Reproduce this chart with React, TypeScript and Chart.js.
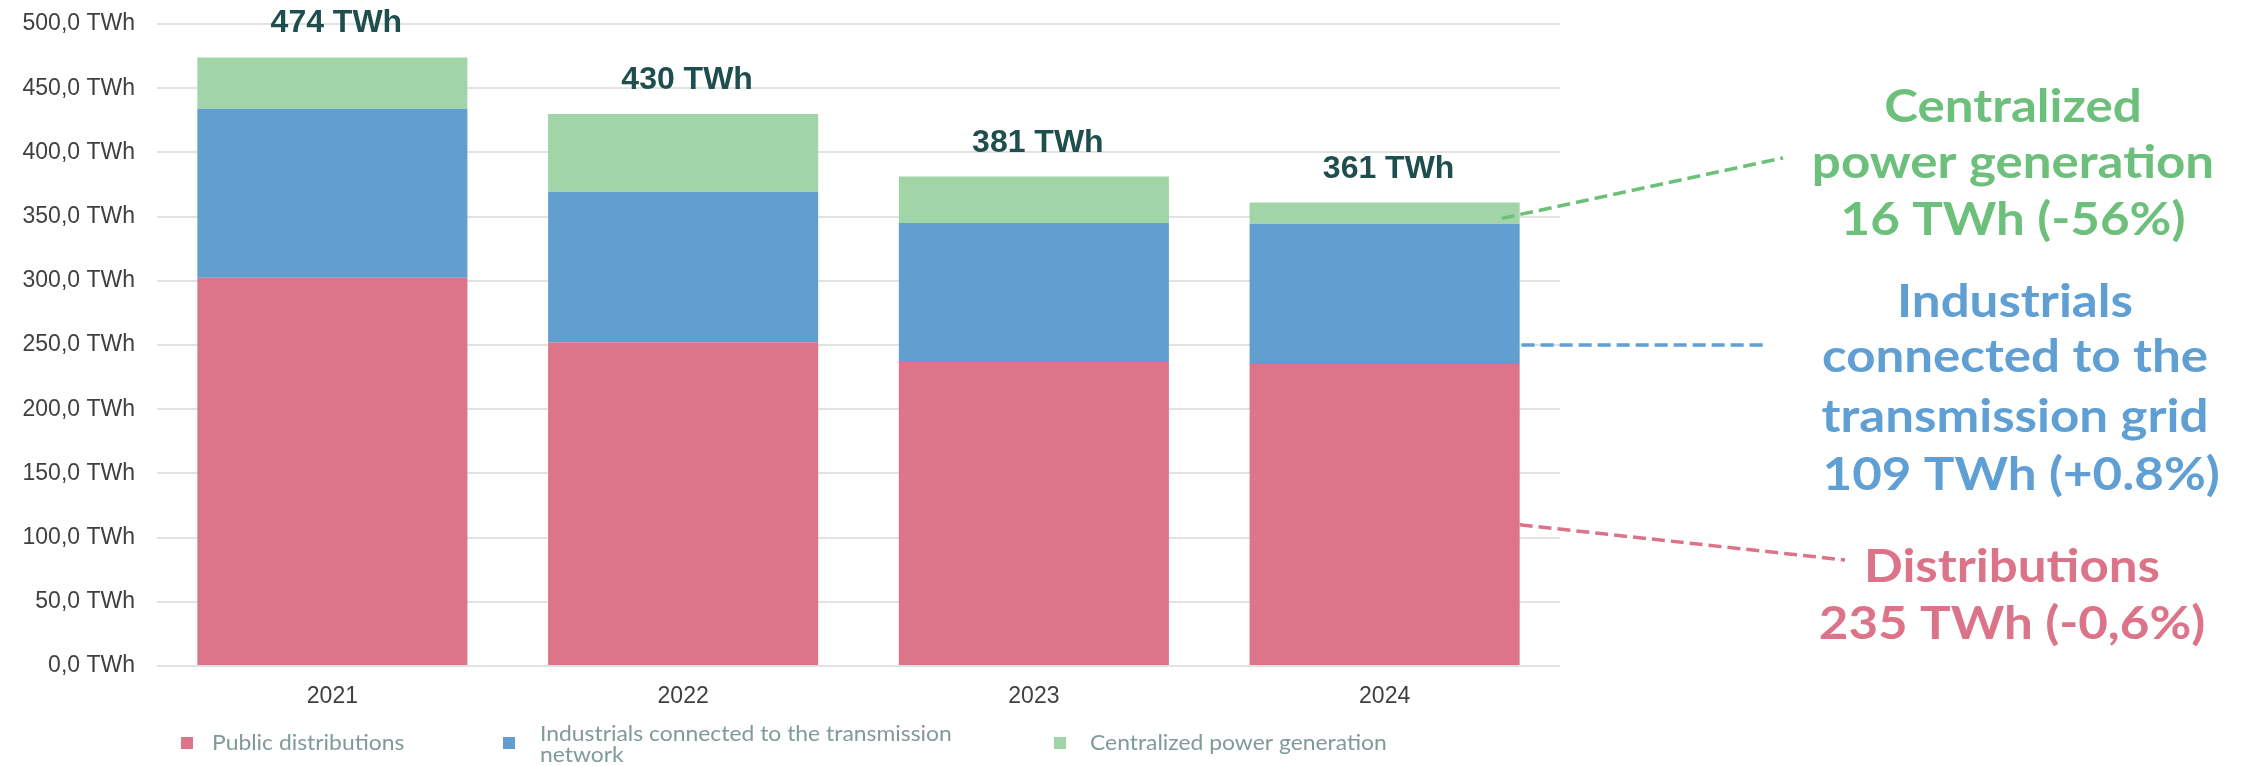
import React, { useEffect, useRef } from "react";
import { Chart, registerables } from "chart.js";

Chart.register(...registerables);

// ---------- data ----------
const categories = ["2021", "2022", "2023", "2024"];
const publicDistributions = [302.3, 252.1, 236.8, 235.2];
const industrials = [131.7, 117.2, 108.3, 109.3];
const centralized = [40.0, 60.7, 36.1, 16.4];
const seriesNames = [
  "Public distributions",
  "Industrials connected to the transmission network",
  "Centralized power generation",
];
const legendLines = [
  ["Public distributions"],
  ["Industrials connected to the transmission", "network"],
  ["Centralized power generation"],
];
const annotationLines = [
  ["Centralized", "power generation", "16 TWh (-56%)"],
  ["Industrials", "connected to the", "transmission grid", " 109 TWh (+0.8%)"],
  ["Distributions", "235 TWh (-0,6%)"],
];
// value on the last bar where each call-out line starts
const annotationAnchorValues = [348.6, 250, 110];
const yMax = 500;
const yStep = 50;

// ---------- styles ----------
const W = 2249;
const H = 766;
const barColors = ["#DC748A", "#629FD1", "#A1D5A8"];
const noteColors = ["#6DC07B", "#5F9FD3", "#DB7489"];
const axisFont = '"Liberation Sans", Arial, sans-serif';
const noteFont = 'Lato, "Noto Sans", sans-serif';

function stretchedText(ctx: any, text: string, x: number, y: number, sx: number, align: string) {
  ctx.save();
  ctx.translate(x, y);
  ctx.scale(sx, 1);
  ctx.textAlign = align;
  ctx.fillText(text, 0, 0);
  ctx.restore();
}

const totalsPlugin = {
  id: "totals",
  afterDatasetsDraw(chart: any) {
    const ctx = chart.ctx;
    const lastMeta = chart.getDatasetMeta(chart.data.datasets.length - 1);
    ctx.save();
    ctx.font = `bold 32px ${axisFont}`;
    ctx.fillStyle = "#1F4E4F";
    ctx.textAlign = "center";
    ctx.textBaseline = "alphabetic";
    categories.forEach((_, i) => {
      const total = publicDistributions[i] + industrials[i] + centralized[i];
      const el = lastMeta.data[i];
      ctx.fillText(`${Math.round(total)} TWh`, el.x + 4, el.y - 25);
    });
    ctx.restore();
  },
};

const legendPlugin = {
  id: "customLegend",
  afterDraw(chart: any) {
    const ctx = chart.ctx;
    const squareX = [181, 503, 1054];
    const textX = [212, 540, 1090];
    ctx.save();
    ctx.font = `22px ${noteFont}`;
    ctx.textBaseline = "alphabetic";
    seriesNames.forEach((_, i) => {
      ctx.fillStyle = barColors[i];
      ctx.fillRect(squareX[i], 737, 12, 12);
      ctx.fillStyle = "#809A98";
      const lines = legendLines[i];
      if (lines.length === 1) {
        stretchedText(ctx, lines[0], textX[i], 750, 1.04, "left");
      } else {
        stretchedText(ctx, lines[0], textX[i], 741, 1.04, "left");
        stretchedText(ctx, lines[1], textX[i], 762, 1.04, "left");
      }
    });
    ctx.restore();
  },
};

const annotationPlugin = {
  id: "callouts",
  afterDraw(chart: any) {
    const ctx = chart.ctx;
    const yScale = chart.scales.y;
    const last = categories.length - 1;
    const bar = chart.getDatasetMeta(0).data[last];
    const right = bar.x + bar.width / 2;
    const starts = [
      [right - 18, yScale.getPixelForValue(annotationAnchorValues[0])],
      [right + 2, yScale.getPixelForValue(annotationAnchorValues[1])],
      [right, yScale.getPixelForValue(annotationAnchorValues[2])],
    ];
    const ends = [
      [1783, 158],
      [1767, yScale.getPixelForValue(annotationAnchorValues[1])],
      [1845, 560],
    ];
    const centers = [2013, 2015, 2012];
    const baselines = [
      [122, 178, 235],
      [317, 372, 432, 490],
      [582, 639],
    ];
    ctx.save();
    ctx.lineWidth = 3.5;
    ctx.setLineDash([13, 6]);
    for (let i = 0; i < 3; i++) {
      ctx.strokeStyle = noteColors[i];
      ctx.beginPath();
      ctx.moveTo(starts[i][0], starts[i][1]);
      ctx.lineTo(ends[i][0], ends[i][1]);
      ctx.stroke();
    }
    ctx.setLineDash([]);
    ctx.font = `bold 46px ${noteFont}`;
    ctx.textBaseline = "alphabetic";
    annotationLines.forEach((lines, i) => {
      ctx.fillStyle = noteColors[i];
      lines.forEach((t, j) => stretchedText(ctx, t, centers[i], baselines[i][j], 1.11, "center"));
    });
    ctx.restore();
  },
};

export default function App() {
  const canvasRef = useRef<HTMLCanvasElement | null>(null);

  useEffect(() => {
    if (!canvasRef.current) return;
    const chart = new Chart(canvasRef.current, {
      type: "bar",
      data: {
        labels: categories,
        datasets: [
          { label: seriesNames[0], data: publicDistributions, backgroundColor: barColors[0] },
          { label: seriesNames[1], data: industrials, backgroundColor: barColors[1] },
          { label: seriesNames[2], data: centralized, backgroundColor: barColors[2] },
        ],
      },
      options: {
        responsive: false,
        animation: false,
        devicePixelRatio: 1,
        layout: { padding: { left: 0, right: W - 1560, top: 24, bottom: 50 } },
        datasets: { bar: { categoryPercentage: 1, barPercentage: 0.77 } },
        plugins: { legend: { display: false }, tooltip: { enabled: false } },
        scales: {
          x: {
            stacked: true,
            grid: { display: false, drawTicks: false },
            border: { display: false },
            ticks: { color: "#404040", font: { family: axisFont, size: 23 }, padding: 17 },
            afterFit(scale: any) {
              scale.height = 50;
              scale.paddingLeft = 0;
              scale.paddingRight = 0;
            },
          },
          y: {
            stacked: true,
            min: 0,
            max: yMax,
            grid: { color: "#E2E2E2", lineWidth: 2, drawTicks: false },
            border: { display: false },
            ticks: {
              stepSize: yStep,
              padding: 22,
              color: "#404040",
              font: { family: axisFont, size: 23 },
              callback: (v: any) => `${Number(v).toFixed(1).replace(".", ",")} TWh`,
            },
            afterFit(scale: any) {
              scale.width = 157;
              scale.paddingTop = 0;
              scale.paddingBottom = 0;
            },
          },
        },
      },
      plugins: [totalsPlugin, annotationPlugin, legendPlugin],
    });
    return () => chart.destroy();
  }, []);

  return (
    <div style={{ position: "fixed", left: 0, top: 0, width: W, height: H, background: "#fff" }}>
      <canvas ref={canvasRef} width={W} height={H} style={{ width: W, height: H, display: "block" }} />
    </div>
  );
}
